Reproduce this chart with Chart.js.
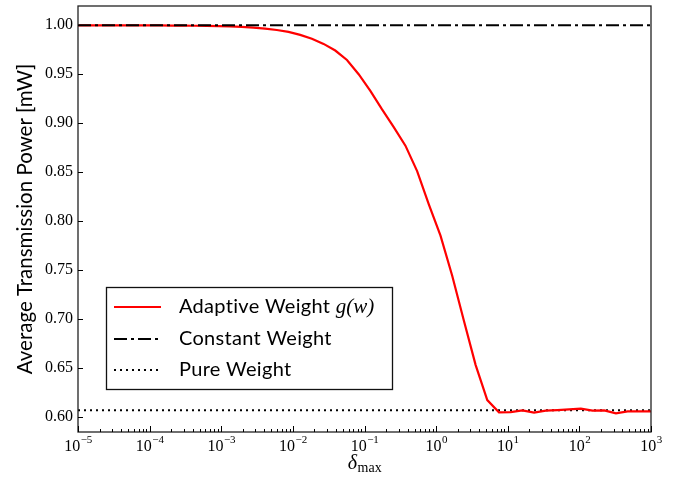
<!DOCTYPE html>
<html>
<head>
<meta charset="utf-8">
<script src="https://cdn.jsdelivr.net/npm/chart.js@4.4.1/dist/chart.umd.min.js"></script>
<style>
  html, body { margin: 0; padding: 0; background: #fff; }
  canvas { display: block; }
</style>
</head>
<body>
<canvas id="powerChart" width="685" height="483"></canvas>
<script>
// delta_max sample points (log spaced)
const deltaMax = [
  1.000e-5, 1.456e-5, 2.121e-5, 3.089e-5, 4.498e-5, 6.551e-5, 9.541e-5, 1.389e-4, 2.024e-4, 2.947e-4,
  4.292e-4, 6.251e-4, 9.103e-4, 1.326e-3, 1.931e-3, 2.812e-3, 4.095e-3, 5.964e-3, 8.685e-3, 1.265e-2,
  1.842e-2, 2.683e-2, 3.907e-2, 5.690e-2, 8.286e-2, 0.1207, 0.1758, 0.2560, 0.3728, 0.5429,
  0.7906, 1.151, 1.677, 2.442, 3.556, 5.179, 7.543, 10.98, 16.00, 23.30,
  33.93, 49.42, 71.97, 104.8, 152.6, 222.3, 323.7, 471.5, 686.6, 1000
];
// Adaptive Weight g(w)
const adaptivePower = [
  1.0000, 1.0000, 1.0000, 0.9999, 0.9999, 0.9999, 0.9998, 0.9998, 0.9997, 0.9996,
  0.9995, 0.9993, 0.9991, 0.9988, 0.9984, 0.9977, 0.9966, 0.9952, 0.9932, 0.9902,
  0.9862, 0.9810, 0.9742, 0.9645, 0.9500, 0.9330, 0.9140, 0.8960, 0.8770, 0.8510,
  0.8170, 0.7850, 0.7440, 0.6980, 0.6530, 0.6170, 0.6045, 0.6048, 0.6065, 0.6042,
  0.6062, 0.6068, 0.6075, 0.6082, 0.6062, 0.6065, 0.6035, 0.6055, 0.6055, 0.6055
];
// reference lines
const refX = [1e-5, 1e3];
const constantPower = [1.0, 1.0];
const purePower = [0.6065, 0.6065];

const yTicks = [0.60, 0.65, 0.70, 0.75, 0.80, 0.85, 0.90, 0.95, 1.00];
const xTickExps = [-5, -4, -3, -2, -1, 0, 1, 2, 3];
const minorMults = [2, 3, 4, 5, 6, 7, 8, 9];

const legendItems = [
  { label: 'Adaptive Weight ', math: 'g(w)', color: '#ff0000', dash: [] },
  { label: 'Constant Weight', math: '', color: '#000', dash: [13, 4, 3, 4] },
  { label: 'Pure Weight', math: '', color: '#000', dash: [2, 4] }
];

const toXY = (xs, ys) => xs.map((x, i) => ({ x: x, y: ys[i] }));

const serif = '"Liberation Serif", "DejaVu Serif", serif';
const sans = 'Lato, "Open Sans", "DejaVu Sans", sans-serif';

const decorPlugin = {
  id: 'decor',
  afterDraw(chart) {
    const ctx = chart.ctx;
    const a = chart.chartArea;
    const xs = chart.scales.x;
    const ys = chart.scales.y;
    ctx.save();

    // frame
    ctx.strokeStyle = '#222';
    ctx.lineWidth = 1.3;
    ctx.setLineDash([]);
    ctx.strokeRect(a.left, a.top, a.right - a.left, a.bottom - a.top);

    // inward x ticks, major + minor
    ctx.lineWidth = 1;
    ctx.strokeStyle = '#000';
    xTickExps.forEach(e => {
      const px = Math.round(xs.getPixelForValue(Math.pow(10, e))) + 0.5;
      ctx.beginPath();
      ctx.moveTo(px, a.bottom);
      ctx.lineTo(px, a.bottom - 6);
      ctx.stroke();
      if (e < 3) {
        minorMults.forEach(m => {
          const mp = Math.round(xs.getPixelForValue(m * Math.pow(10, e))) + 0.5;
          ctx.beginPath();
          ctx.moveTo(mp, a.bottom);
          ctx.lineTo(mp, a.bottom - 3);
          ctx.stroke();
        });
      }
    });

    // inward y ticks
    yTicks.forEach(v => {
      const py = Math.round(ys.getPixelForValue(v)) + 0.5;
      ctx.beginPath();
      ctx.moveTo(a.left, py);
      ctx.lineTo(a.left + 5, py);
      ctx.stroke();
    });

    // x tick labels 10^e
    ctx.fillStyle = '#000';
    ctx.textBaseline = 'alphabetic';
    ctx.textAlign = 'left';
    xTickExps.forEach(e => {
      const px = xs.getPixelForValue(Math.pow(10, e));
      const sup = e < 0 ? '\u2212' + Math.abs(e) : String(e);
      ctx.font = '16px ' + serif;
      const bw = ctx.measureText('10').width;
      ctx.font = '11px ' + serif;
      const sw = ctx.measureText(sup).width;
      const x0 = px - (bw + sw) / 2;
      ctx.font = '16px ' + serif;
      ctx.fillText('10', x0, a.bottom + 19);
      ctx.font = '11px ' + serif;
      ctx.fillText(sup, x0 + bw + 0.5, a.bottom + 11);
    });

    // x axis title delta_max
    const cx = (a.left + a.right) / 2;
    ctx.font = 'italic 20px ' + serif;
    const dw = ctx.measureText('\u03b4').width;
    ctx.font = '14px ' + serif;
    const mw = ctx.measureText('max').width;
    const tx = cx - (dw + mw) / 2;
    ctx.font = 'italic 20px ' + serif;
    ctx.fillText('\u03b4', tx, a.bottom + 37);
    ctx.font = '14px ' + serif;
    ctx.fillText('max', tx + dw + 0.5, a.bottom + 40);

    // legend
    const lx = 106, ly = 287, lw = 286, lh = 102;
    ctx.fillStyle = 'rgba(255,255,255,0.85)';
    ctx.fillRect(lx, ly, lw, lh);
    ctx.strokeStyle = '#111';
    ctx.lineWidth = 1.3;
    ctx.strokeRect(lx + 0.5, ly + 0.5, lw, lh);
    const rows = [307, 339, 370];
    legendItems.forEach((it, i) => {
      const ry = rows[i];
      ctx.strokeStyle = it.color;
      ctx.lineWidth = 2;
      ctx.setLineDash(it.dash);
      ctx.beginPath();
      ctx.moveTo(114, ry);
      ctx.lineTo(161, ry);
      ctx.stroke();
      ctx.setLineDash([]);
      ctx.fillStyle = '#000';
      ctx.textBaseline = 'middle';
      ctx.font = '20px ' + sans;
      ctx.letterSpacing = '0.3px';
      ctx.fillText(it.label, 179, ry);
      if (it.math) {
        const w = ctx.measureText(it.label).width;
        ctx.letterSpacing = '0px';
        ctx.font = 'italic 21px ' + serif;
        ctx.fillText(it.math, 179 + w, ry);
      }
      ctx.letterSpacing = '0px';
    });

    ctx.restore();
  }
};

new Chart(document.getElementById('powerChart').getContext('2d'), {
  type: 'line',
  data: {
    datasets: [
      {
        label: 'Adaptive Weight g(w)',
        data: toXY(deltaMax, adaptivePower),
        borderColor: '#ff0000',
        borderWidth: 2.2,
        pointRadius: 0,
        tension: 0,
        order: 1
      },
      {
        label: 'Constant Weight',
        data: toXY(refX, constantPower),
        borderColor: '#000',
        borderWidth: 2,
        borderDash: [13, 4, 3, 4],
        pointRadius: 0,
        order: 0
      },
      {
        label: 'Pure Weight',
        data: toXY(refX, purePower),
        borderColor: '#000',
        borderWidth: 2,
        borderDash: [2, 4],
        pointRadius: 0,
        order: 2
      }
    ]
  },
  options: {
    responsive: false,
    animation: false,
    devicePixelRatio: 1,
    layout: { padding: { top: 6, right: 34, left: 0, bottom: 0 } },
    plugins: {
      legend: { display: false },
      tooltip: { enabled: false }
    },
    scales: {
      x: {
        type: 'logarithmic',
        min: 1e-5,
        max: 1e3,
        grid: { display: false, drawTicks: false },
        border: { display: false },
        ticks: { display: false },
        afterFit(scale) { scale.height = 51; scale.paddingLeft = 0; scale.paddingRight = 0; }
      },
      y: {
        type: 'linear',
        min: 0.5844,
        max: 1.0197,
        grid: { display: false, drawTicks: false },
        border: { display: false },
        afterBuildTicks(scale) { scale.ticks = yTicks.map(v => ({ value: v })); },
        ticks: {
          padding: 5,
          color: '#000',
          font: { family: serif, size: 16 },
          callback: v => v.toFixed(2)
        },
        title: {
          display: true,
          text: 'Average Transmission Power [mW]',
          color: '#000',
          font: { family: sans, size: 20.5 },
          padding: { top: 13, bottom: 0 }
        },
        afterFit(scale) { scale.width = 78; scale.paddingTop = 0; scale.paddingBottom = 0; }
      }
    }
  },
  plugins: [decorPlugin]
});
</script>
</body>
</html>
